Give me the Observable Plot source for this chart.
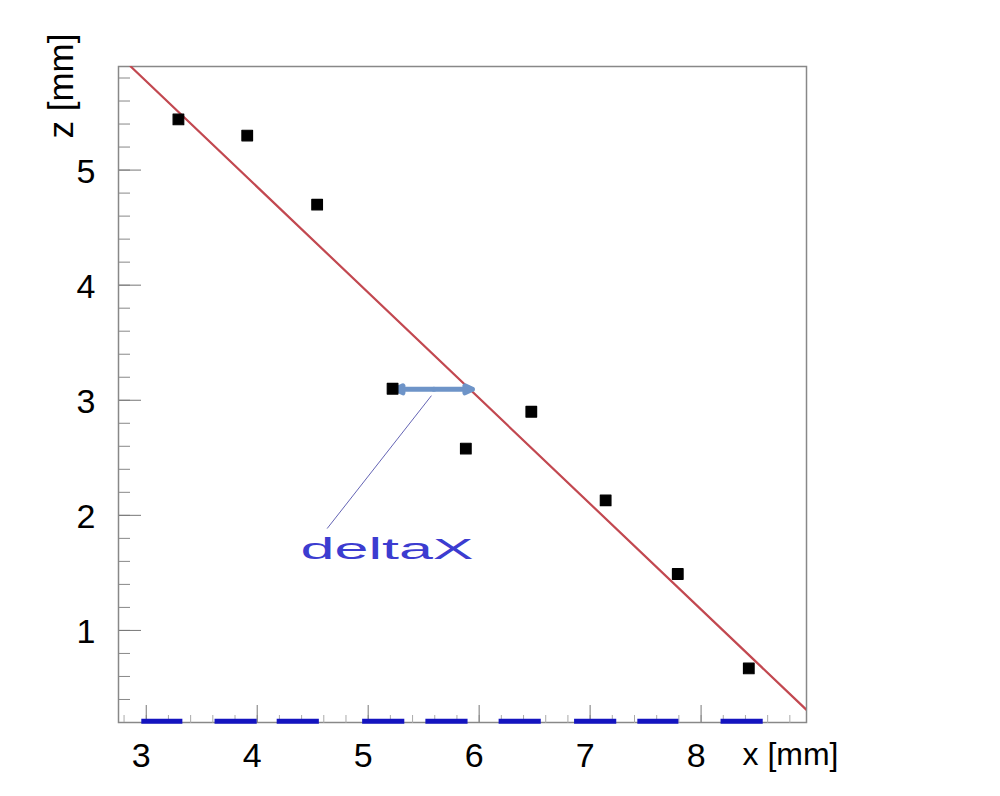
<!DOCTYPE html>
<html><head><meta charset="utf-8">
<script src="https://cdn.jsdelivr.net/npm/d3@7"></script>
<script src="https://cdn.jsdelivr.net/npm/@observablehq/plot@0.6"></script>
<style>body{margin:0;background:#fff}#chart svg{display:block}</style>
</head><body><div id="chart"></div>
<script>
// measured points
const pointX = [3.29, 3.91, 4.54, 5.22, 5.88, 6.47, 7.14, 7.79, 8.43];
const pointZ = [5.44, 5.30, 4.70, 3.10, 2.58, 2.90, 2.13, 1.49, 0.67];
// fitted straight line (end points)
const fitX = [2.86, 8.95];
const fitZ = [5.90, 0.31];
// strips along the bottom
const stripStart = [2.96, 3.62, 4.18, 4.95, 5.52, 6.18, 6.86, 7.43, 8.18];
const stripEnd   = [3.33, 4.00, 4.56, 5.33, 5.90, 6.56, 7.24, 7.80, 8.56];
const stripZ = 0.21;
// deltaX annotation
const arrowX = [5.245, 5.94];
const arrowZ = 3.095;
const pointerX = [4.63, 5.57];
const pointerZ = [1.885, 3.04];
const labelX = 5.17, labelZ = 1.70, labelText = "deltaX";
// ticks
const xMajor = [3, 4, 5, 6, 7, 8];
const xMinor = d3.range(14, 45).map(i => i / 5);
const yMajor = [1, 2, 3, 4, 5];
const yMinor = d3.range(1, 30).map(i => i / 5);

const pts = pointX.map((x, i) => ({x, z: pointZ[i]}));
const fit = fitX.map((x, i) => ({x, z: fitZ[i]}));
const strips = stripStart.map((s, i) => ({x1: s, x2: stripEnd[i]}));
const mid = (arrowX[0] + arrowX[1]) / 2;
const arrows = [{x1: mid, x2: arrowX[0]}, {x1: mid, x2: arrowX[1]}];

const chart = Plot.plot({
  width: 1000, height: 796,
  marginLeft: 118, marginRight: 194, marginTop: 66, marginBottom: 74,
  style: {fontFamily: "'Liberation Sans', Arial, sans-serif", background: "white", color: "black"},
  x: {domain: [2.75, 8.95]},
  y: {domain: [0.2, 5.9]},
  marks: [
    Plot.frame({stroke: "#888", strokeWidth: 1.5}),
    Plot.axisX(xMinor, {anchor: "top", frameAnchor: "bottom", tickSize: 8, stroke: "#aaa", tickFormat: () => "", label: null}),
    Plot.axisX(xMajor, {anchor: "top", frameAnchor: "bottom", tickSize: 18, stroke: "#777", tickFormat: () => "", label: null}),
    Plot.axisX(xMajor, {anchor: "bottom", tickSize: 0, tickPadding: 20, fontSize: 34, dx: -5, tickFormat: "d", label: null, fill: "black"}),
    Plot.axisY(yMinor, {anchor: "right", frameAnchor: "left", tickSize: 11, stroke: "#888", tickFormat: () => "", label: null}),
    Plot.axisY(yMajor, {anchor: "right", frameAnchor: "left", tickSize: 22, stroke: "#777", tickFormat: () => "", label: null}),
    Plot.axisY(yMajor, {anchor: "left", tickSize: 0, tickPadding: 23, fontSize: 34, dy: 2, tickFormat: "d", label: null, fill: "black"}),
    Plot.ruleY(strips, {x1: "x1", x2: "x2", y: stripZ, stroke: "#1414c0", strokeWidth: 5}),
    Plot.line(fit, {x: "x", y: "z", stroke: "#c24850", strokeWidth: 2.2, clip: true}),
    Plot.arrow(arrows, {x1: "x1", x2: "x2", y1: arrowZ, y2: arrowZ, bend: 0, stroke: "#6e94c8", strokeWidth: 5, headLength: 2.5, headAngle: 50}),
    Plot.link([{}], {x1: pointerX[0], x2: pointerX[1], y1: pointerZ[0], y2: pointerZ[1], stroke: "#6464b4", strokeWidth: 1}),
    Plot.dot(pts, {x: "x", y: "z", symbol: "square", r: 6, fill: "black", stroke: "black", strokeWidth: 1.2, strokeLinejoin: "round"}),
    Plot.text([labelText], {x: labelX, y: labelZ, text: d => d, fill: "#3c3cd0", fontSize: 30}),
    Plot.text(["x [mm]"], {text: d => d, frameAnchor: "bottom-right", dx: 32, dy: 42, textAnchor: "end", fontSize: 32, fill: "black"}),
    Plot.text(["z [mm]"], {text: d => d, frameAnchor: "top-left", rotate: -90, textAnchor: "end", dx: -70, dy: -33, fontSize: 35, fill: "black"})
  ]
});
document.getElementById("chart").appendChild(chart);
d3.select(chart).selectAll("text").filter(function() { return this.textContent === labelText; })
  .attr("textLength", 173).attr("lengthAdjust", "spacingAndGlyphs");
</script>
</body></html>
